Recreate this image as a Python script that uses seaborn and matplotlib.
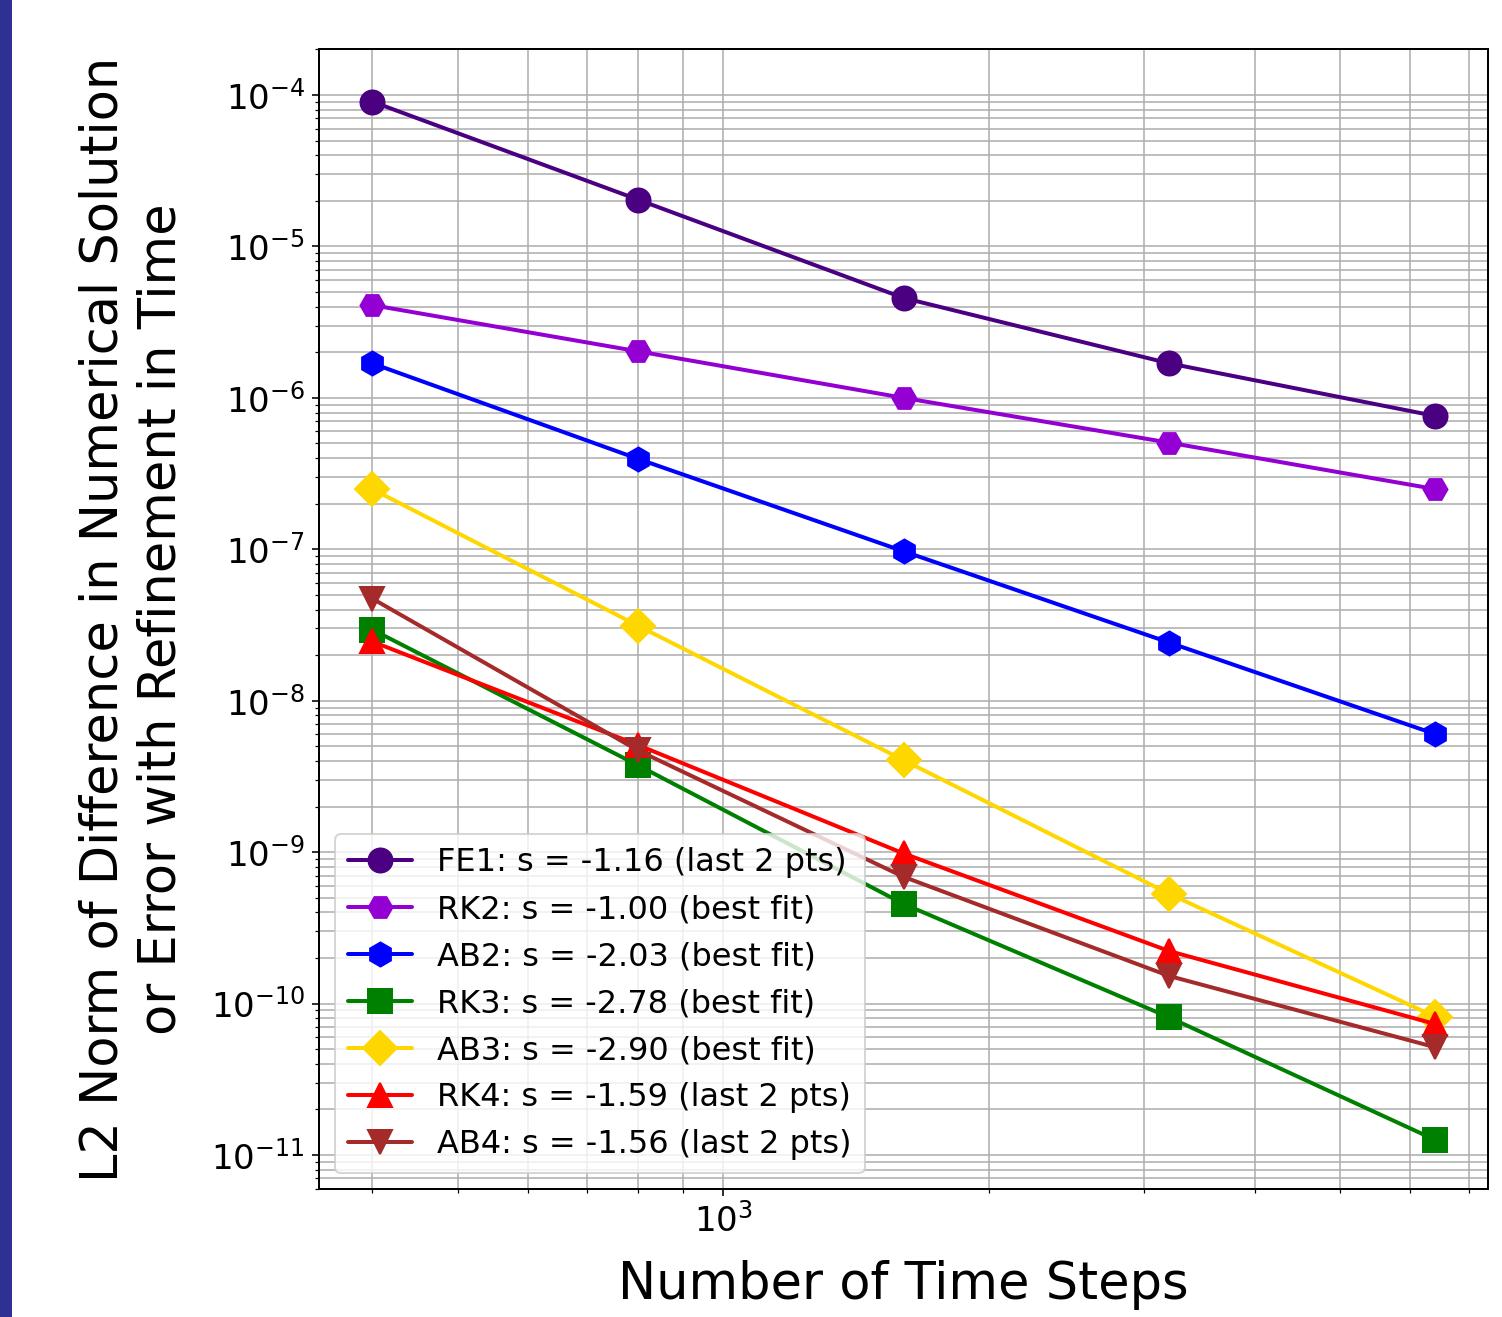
import matplotlib
matplotlib.use("Agg")
import matplotlib.pyplot as plt
import seaborn as sns
import pandas as pd
from matplotlib.patches import Rectangle

steps = [400, 800, 1600, 3200, 6400]
fe1 = [9.05e-5, 2.04e-5, 4.57e-6, 1.69e-6, 7.6e-7]
rk2 = [4.1e-6, 2.03e-6, 1.0e-6, 5.06e-7, 2.5e-7]
ab2 = [1.69e-6, 3.96e-7, 9.7e-8, 2.42e-8, 6.03e-9]
rk3 = [2.95e-8, 3.75e-9, 4.55e-10, 8.1e-11, 1.26e-11]
ab3 = [2.5e-7, 3.13e-8, 4.05e-9, 5.3e-10, 8.2e-11]
rk4 = [2.46e-8, 5.1e-9, 9.8e-10, 2.22e-10, 7.33e-11]
ab4 = [4.73e-8, 4.7e-9, 6.87e-10, 1.52e-10, 5.15e-11]

labels = [
    "FE1: s = -1.16 (last 2 pts)",
    "RK2: s = -1.00 (best fit)",
    "AB2: s = -2.03 (best fit)",
    "RK3: s = -2.78 (best fit)",
    "AB3: s = -2.90 (best fit)",
    "RK4: s = -1.59 (last 2 pts)",
    "AB4: s = -1.56 (last 2 pts)",
]
series = [fe1, rk2, ab2, rk3, ab3, rk4, ab4]
colors = ["indigo", "darkviolet", "blue", "green", "gold", "red", "brown"]
markers = ["o", "H", "h", "s", "D", "^", "v"]

sns.set_style("ticks")
plt.rcParams["font.family"] = ["DejaVu Sans"]
plt.rcParams["text.color"] = "black"
plt.rcParams["axes.labelcolor"] = "black"
plt.rcParams["xtick.color"] = "black"
plt.rcParams["ytick.color"] = "black"

fig = plt.figure(figsize=(1502 / 144, 1317 / 144), dpi=144)
ax = fig.add_axes([319 / 1502, 1 - 1189 / 1317, (1488 - 319) / 1502, (1189 - 49) / 1317])

for lab, vals, c, m in zip(labels, series, colors, markers):
    df = pd.DataFrame({"steps": steps, "err": vals})
    sns.lineplot(data=df, x="steps", y="err", ax=ax, color=c, marker=m,
                 markersize=12, linewidth=2, markeredgecolor=c,
                 markeredgewidth=1, label=lab)

ax.set_xscale("log")
ax.set_yscale("log")
ax.set_ylim(10 ** -11.225, 10 ** -3.696)
ax.grid(True, which="both", color="#b0b0b0", linewidth=0.8)
for s in ax.spines.values():
    s.set_visible(True)
    s.set_color("black")
    s.set_linewidth(1.0)
ax.tick_params(which="both", direction="out", colors="black", labelsize=17)
ax.tick_params(which="major", length=3.5, width=0.8)
ax.tick_params(which="minor", length=2, width=0.6)

ax.set_xlabel("Number of Time Steps", fontsize=25.5, labelpad=10.5)
ax.set_ylabel("L2 Norm of Difference in Numerical Solution\nor Error with Refinement in Time",
              fontsize=25.5, labelpad=12)

leg = ax.legend(loc="lower left", fontsize=16, framealpha=0.8)
for t in leg.get_texts():
    t.set_color("black")

fig.patches.append(Rectangle((0, 0), 11 / 1502, 1, transform=fig.transFigure,
                             color="#2e3192", zorder=10))

fig.savefig("out.png", dpi=144)
